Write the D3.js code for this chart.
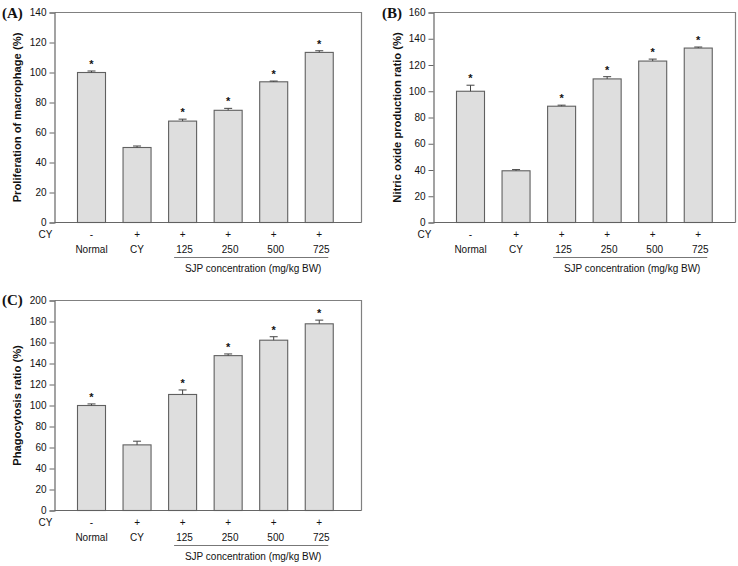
<!DOCTYPE html>
<html>
<head>
<meta charset="utf-8">
<script src="https://cdn.jsdelivr.net/npm/d3@7"></script>
<style>
  html, body { margin: 0; padding: 0; background: #fff; }
  svg { display: block; }
  text { font-family: Arial, "Liberation Sans", sans-serif; fill: #111; }
</style>
</head>
<body>
<svg id="chart" width="738" height="566"></svg>
<script>
// ---------------- data ----------------
const categories = ["Normal", "CY", "125", "250", "500", "725"];
const cySigns = ["-", "+", "+", "+", "+", "+"];
const significant = [true, false, true, true, true, true];

const proliferation = [100, 50, 67.6, 74.8, 93.8, 113.4];
const proliferationErr = [1.0, 1.0, 1.3, 1.3, 0.5, 1.1];

const nitricOxide = [100, 39.4, 88.6, 109.4, 123, 132.9];
const nitricOxideErr = [4.6, 0.9, 0.8, 1.7, 1.5, 0.8];

const phagocytosis = [100, 62.5, 110.5, 147.5, 162.2, 177.8];
const phagocytosisErr = [1.5, 3.5, 4.3, 1.6, 3.3, 3.5];

const ticksA = [0, 20, 40, 60, 80, 100, 120, 140];
const ticksB = [0, 20, 40, 60, 80, 100, 120, 140, 160];
const ticksC = [0, 20, 40, 60, 80, 100, 120, 140, 160, 180, 200];

const groupLabel = "SJP concentration (mg/kg BW)";
const rowLabel = "CY";

// ---------------- layout ----------------
const panels = [
  { tag: "(A)", title: "Proliferation of macrophage (%)", values: proliferation, errors: proliferationErr,
    ticks: ticksA, left: 54.5, right: 361.5, top: 12.5, bottom: 222.5, tagX: 2, tagY: 17.5, titleX: 17 },
  { tag: "(B)", title: "Nitric oxide production ratio (%)", values: nitricOxide, errors: nitricOxideErr,
    ticks: ticksB, left: 433.5, right: 735.5, top: 12.5, bottom: 222.5, tagX: 382, tagY: 18, titleX: 397 },
  { tag: "(C)", title: "Phagocytosis ratio (%)", values: phagocytosis, errors: phagocytosisErr,
    ticks: ticksC, left: 54.5, right: 361.5, top: 300.5, bottom: 510.5, tagX: 2, tagY: 305, titleX: 17 }
];

const svg = d3.select("#chart");
svg.append("rect").attr("width", 738).attr("height", 566).attr("fill", "#fff");

const STEP = 45.55;

panels.forEach(p => {
  const g = svg.append("g");
  const x = d3.scaleBand()
    .domain(categories)
    .range([p.left + 37 - STEP / 2, p.left + 37 + STEP * 5.5])
    .paddingInner(0.385)
    .paddingOuter(0.1925);
  const y = d3.scaleLinear()
    .domain([0, d3.max(p.ticks)])
    .range([p.bottom, p.top]);

  // frame (top, right)
  g.append("path")
    .attr("d", `M${p.left},${p.top}H${p.right}V${p.bottom}`)
    .attr("fill", "none").attr("stroke", "#808080").attr("stroke-width", 1.2);

  // y axis
  const yAxis = d3.axisLeft(y).tickValues(p.ticks).tickSize(5).tickPadding(3).tickFormat(d3.format("d"));
  const ya = g.append("g").attr("transform", `translate(${p.left},0)`).call(yAxis);
  ya.select(".domain").attr("stroke", "#666").attr("stroke-width", 1.2);
  ya.selectAll(".tick line").attr("stroke", "#666");
  ya.selectAll(".tick text").attr("font-size", "10px").attr("fill", "#111")
    .attr("font-family", "Arial, 'Liberation Sans', sans-serif");

  // x axis line
  g.append("line").attr("x1", p.left).attr("x2", p.right).attr("y1", p.bottom).attr("y2", p.bottom)
    .attr("stroke", "#666").attr("stroke-width", 1.2);

  // bars
  g.selectAll("rect.bar").data(p.values).join("rect")
    .attr("class", "bar")
    .attr("x", (d, i) => x(categories[i]))
    .attr("width", x.bandwidth())
    .attr("y", d => y(d))
    .attr("height", d => y(0) - y(d))
    .attr("fill", "#dedede")
    .attr("stroke", "#606060")
    .attr("stroke-width", 1.1);

  // error bars (upper only)
  const cx = i => x(categories[i]) + x.bandwidth() / 2;
  p.values.forEach((v, i) => {
    const e = p.errors[i];
    g.append("line").attr("x1", cx(i)).attr("x2", cx(i)).attr("y1", y(v)).attr("y2", y(v + e))
      .attr("stroke", "#444").attr("stroke-width", 1);
    g.append("line").attr("x1", cx(i) - 4).attr("x2", cx(i) + 4).attr("y1", y(v + e)).attr("y2", y(v + e))
      .attr("stroke", "#444").attr("stroke-width", 1);
    if (significant[i]) {
      g.append("text").attr("x", cx(i)).attr("y", y(v + e) - 3)
        .attr("text-anchor", "middle").attr("font-size", "11px").attr("font-weight", "bold")
        .attr("fill", "#333").text("*");
    }
  });

  // CY row
  g.append("text").attr("x", p.left - 2).attr("y", p.bottom + 15.5)
    .attr("text-anchor", "end").attr("font-size", "10px").text(rowLabel);
  g.selectAll("text.sign").data(cySigns).join("text").attr("class", "sign")
    .attr("x", (d, i) => cx(i)).attr("y", p.bottom + 15.5)
    .attr("text-anchor", "middle").attr("font-size", "10px").text(d => d);
  g.selectAll("text.cat").data(categories).join("text").attr("class", "cat")
    .attr("x", (d, i) => cx(i) + (i >= 2 ? 2 : 0)).attr("y", p.bottom + 30.5)
    .attr("text-anchor", "middle").attr("font-size", "10px").text(d => d);

  // group line + label
  const lx1 = cx(2) - 8.5, lx2 = cx(5) + 9;
  g.append("line").attr("x1", lx1).attr("x2", lx2).attr("y1", p.bottom + 35).attr("y2", p.bottom + 35)
    .attr("stroke", "#777").attr("stroke-width", 1);
  g.append("text").attr("x", (lx1 + lx2) / 2 + 2).attr("y", p.bottom + 49.5)
    .attr("text-anchor", "middle").attr("font-size", "10px").text(groupLabel);

  // y title
  g.append("text")
    .attr("transform", `translate(${p.titleX},${(p.top + p.bottom) / 2}) rotate(-90)`)
    .attr("text-anchor", "middle").attr("dominant-baseline", "central")
    .attr("font-size", "11.2px").attr("font-weight", "bold").text(p.title);

  // panel tag
  g.append("text").attr("x", p.tagX).attr("y", p.tagY)
    .attr("font-family", "'Liberation Serif', 'Times New Roman', serif")
    .style("font-family", "'Liberation Serif', 'Times New Roman', serif")
    .attr("font-size", "15px").attr("font-weight", "bold").text(p.tag);
});
</script>
</body>
</html>
